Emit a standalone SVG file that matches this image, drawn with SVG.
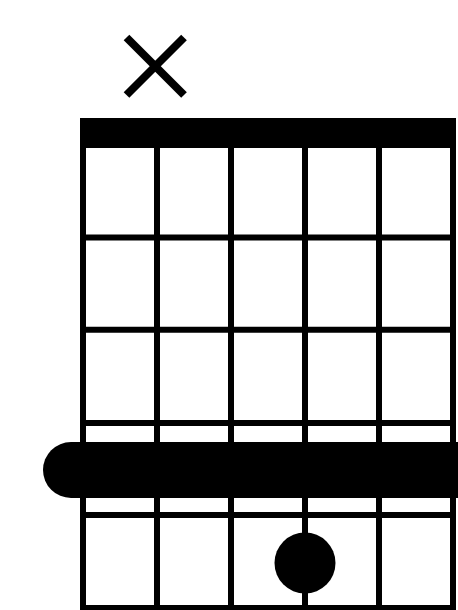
<svg xmlns="http://www.w3.org/2000/svg" width="458" height="610" viewBox="0 0 458 610">
<style>
.s{stroke:#000;stroke-width:6;fill:none}
.x{stroke:#000;stroke-width:8;stroke-linecap:butt;fill:none}
</style>
<rect width="458" height="610" fill="#fff"/>
<g id="muted-string-2">
<line class="x" x1="126.5" y1="37.5" x2="184" y2="95"/>
<line class="x" x1="184" y1="37.5" x2="126.5" y2="95"/>
</g>
<g id="nut"><rect x="80" y="118" width="376" height="30" fill="#000"/></g>
<g id="strings">
<line class="s" x1="83" y1="118" x2="83" y2="611"/>
<line class="s" x1="157" y1="118" x2="157" y2="611"/>
<line class="s" x1="231" y1="118" x2="231" y2="611"/>
<line class="s" x1="305" y1="118" x2="305" y2="611"/>
<line class="s" x1="379" y1="118" x2="379" y2="611"/>
<line class="s" x1="453" y1="118" x2="453" y2="611"/>
</g>
<g id="frets">
<line class="s" x1="80" y1="237.5" x2="456" y2="237.5"/>
<line class="s" x1="80" y1="329.7" x2="456" y2="329.7"/>
<line class="s" x1="80" y1="423" x2="456" y2="423"/>
<line class="s" x1="80" y1="515" x2="456" y2="515"/>
<line class="s" x1="80" y1="608" x2="456" y2="608"/>
</g>
<g id="barre"><rect x="43" y="442" width="443" height="56" rx="28" ry="28" fill="#000"/></g>
<g id="dot"><circle cx="305" cy="563" r="30.5" fill="#000"/></g>
</svg>
